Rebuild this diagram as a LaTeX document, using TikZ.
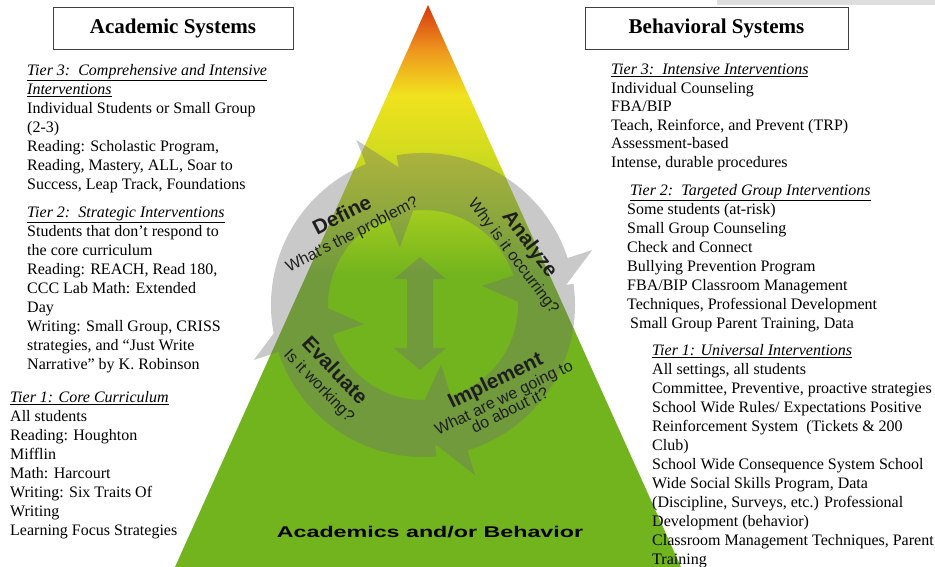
\documentclass[tikz,border=0pt]{standalone}
\usepackage{fontspec}
\setmainfont{Liberation Serif}
\newfontfamily\arialfont{Liberation Sans}
\usepackage{graphicx}
\usetikzlibrary{positioning}

\definecolor{pyrgreen}{RGB}{114,180,30}
\definecolor{pyrlime}{RGB}{165,205,30}
\definecolor{pyrlemon}{RGB}{210,220,30}
\definecolor{pyryellow}{RGB}{240,226,30}
\definecolor{pyrorange}{RGB}{238,150,30}
\definecolor{pyrred}{RGB}{215,55,15}
\definecolor{cyclegray}{RGB}{112,112,112}
\definecolor{cycletext}{RGB}{30,30,30}

\pgfdeclareverticalshading{pyramid}{100bp}{color(0bp)=(pyrgreen); color(25bp)=(pyrgreen); color(51bp)=(pyrgreen); color(57bp)=(pyrlime); color(62bp)=(pyrlemon); color(67bp)=(pyryellow); color(71bp)=(pyrorange); color(75bp)=(pyrred); color(100bp)=(pyrred)}

\newcommand\steptitle[1]{{\bfseries\fontsize{20.5}{22}\selectfont #1}}

\begin{document}
\begin{tikzpicture}[x=1pt, y=-1pt,
  tierbox/.style={anchor=north west, inner sep=0pt, align=left, font=\fontsize{16}{19}\selectfont},
  sysbox/.style={draw=black!75, line width=0.9pt, fill=white, minimum height=42pt, font=\fontsize{21}{24}\selectfont\bfseries},
  steplabel/.style={align=center, text=cycletext, inner sep=0pt, font=\arialfont\fontsize{16}{17}\selectfont},
  cyclefill/.style={fill=cyclegray}]

  \useasboundingbox (0,0) rectangle (935,567);
  \fill[black!13] (717,0) rectangle (935,5);
  \shade[shading=pyramid] (428,5) -- (681,567) -- (175,567) -- cycle;

  \begin{scope}[shift={(423,305)}, y=1pt, transparency group, opacity=0.38]
    \foreach \from/\to in {195/90, 100/-4, 8/-95, -85/-184}
      \fill[cyclefill] (\from:152) arc[start angle=\from, end angle=\to+22, radius=152]
        -- ({\to+22}:178) -- (\to:122) -- ({\to+22}:62) -- ({\to+22}:95)
        arc[start angle=\to+22, end angle=\from, radius=95] -- cycle;
    \fill[cyclefill] (-3,48) -- (-29,26) -- (-16,26) -- (-16,-43) -- (-29,-43) -- (-3,-65)
      -- (23,-43) -- (10,-43) -- (10,26) -- (23,26) -- cycle;
  \end{scope}

  \node[steplabel, rotate=27] (define) at (347,225) {\steptitle{Define}\\[3pt]What's the problem?};
  \node[steplabel, rotate=-53] (analyze) at (522,250) {\steptitle{Analyze}\\[2pt]Why is it occurring?};
  \node[steplabel, rotate=26] (implement) at (502,394) {\steptitle{Implement}\\[1pt]What are we going to\\[-3pt]do about it?};
  \node[steplabel, rotate=-46] (evaluate) at (327,378) {\steptitle{Evaluate}\\[3pt]Is it working?};

  \node[font=\arialfont\bfseries\fontsize{15.5}{18}\selectfont] (base) at (430,532) {\scalebox{1.5}[1]{Academics and/or Behavior}};

  \node[sysbox, minimum width=240pt] (acad) at (173,28) {Academic Systems};
  \node[sysbox, minimum width=263pt] (behav) at (716.5,28) {Behavioral Systems};

  \node[tierbox] (acadT3) at (27,64) {\underline{\textit{Tier 3:\ \ Comprehensive and Intensive}}\\\underline{\textit{Interventions}}\\Individual Students or Small Group\\(2-3)\\Reading: Scholastic Program,\\Reading, Mastery, ALL, Soar to\\Success, Leap Track, Foundations};
  \node[tierbox] (acadT2) at (27,207) {\underline{\textit{Tier 2:\ \ Strategic Interventions}}\\Students that don't respond to\\the core curriculum\\Reading: REACH, Read 180,\\CCC Lab Math: Extended\\Day\\Writing: Small Group, CRISS\\strategies, and ``Just Write\\Narrative'' by K. Robinson};
  \node[tierbox] (acadT1) at (10,391) {\underline{\textit{Tier 1: Core Curriculum}}\\All students\\Reading: Houghton\\Mifflin\\Math: Harcourt\\Writing: Six Traits Of\\Writing\\Learning Focus Strategies};

  \node[tierbox, font=\fontsize{16}{18.5}\selectfont] (behavT3) at (611,64) {\underline{\textit{Tier 3:\ \ Intensive Interventions}}\\Individual Counseling\\FBA/BIP\\Teach, Reinforce, and Prevent (TRP)\\Assessment-based\\Intense, durable procedures};
  \node[tierbox] (behavT2) at (627,184) {\hspace*{3pt}\underline{\textit{Tier 2:\ \ Targeted Group Interventions}}\\Some students (at-risk)\\Small Group Counseling\\Check and Connect\\Bullying Prevention Program\\FBA/BIP Classroom Management\\Techniques, Professional Development\\\hspace*{3pt}Small Group Parent Training, Data};
  \node[tierbox] (behavT1) at (652,344) {\underline{\textit{Tier 1: Universal Interventions}}\\All settings, all students\\Committee, Preventive, proactive strategies\\School Wide Rules/ Expectations Positive\\Reinforcement System\ \ (Tickets \& 200\\Club)\\School Wide Consequence System School\\Wide Social Skills Program, Data\\(Discipline, Surveys, etc.) Professional\\Development (behavior)\\Classroom Management Techniques, Parent\\Training};
\end{tikzpicture}
\end{document}
